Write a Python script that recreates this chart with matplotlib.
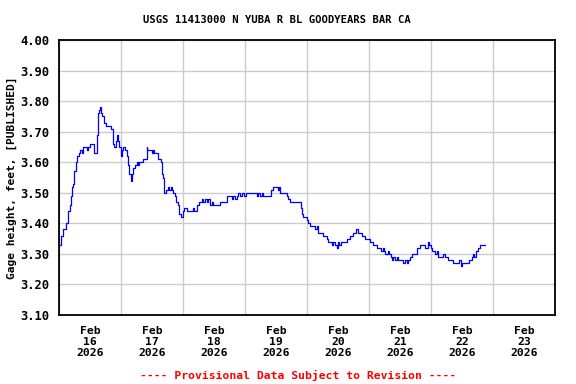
import numpy as np
import matplotlib
matplotlib.use('Agg')
import matplotlib.pyplot as plt

# hours since Feb 16 2026 00:00
hours = [0.0, 0.8, 1.7, 2.6, 3.4, 4.3, 4.6, 5.1, 5.5, 5.9, 6.5, 6.8, 7.7, 8.1, 9.0,
         9.4, 10.7, 11.1, 12.0, 13.3, 13.7, 14.6, 14.8, 15.0, 15.5, 15.9, 16.3, 16.8,
         17.4, 18.2, 19.5, 20.1, 20.8, 20.9, 21.4, 22.1, 22.3, 23.0, 23.3, 23.9, 24.3,
         24.9, 25.5, 26.2, 26.6, 27.0, 27.8, 27.9, 28.4, 28.8, 29.4, 30.1, 30.5, 31.1,
         32.0, 32.6, 33.6, 34.0, 34.2, 35.6, 35.9, 36.5, 36.9, 37.8, 38.2, 39.1, 39.5,
         39.7, 40.4, 40.6, 40.8, 41.3, 41.9, 42.3, 42.7, 43.2, 43.6, 44.2, 44.9, 45.3,
         45.9, 46.4, 46.6, 47.2, 47.5, 47.9, 48.4, 49.4, 49.7, 51.4, 51.7, 52.4, 53.3,
         54.2, 54.6, 55.2, 55.7, 56.5, 57.2, 57.8, 58.5, 59.1, 59.7, 61.5, 62.3, 64.3,
         64.9, 66.2, 66.8, 67.5, 68.1, 68.8, 69.4, 70.1, 70.7, 71.7, 72.3, 73.3, 75.9,
         76.5, 77.1, 77.8, 78.5, 79.1, 81.4, 81.9, 82.7, 84.3, 84.6, 85.2, 85.5, 87.5,
         88.1, 88.8, 89.4, 93.3, 93.7, 94.2, 94.6, 95.2, 95.9, 96.5, 97.2, 98.4, 99.1,
         99.8, 100.4, 101.7, 102.3, 103.0, 103.6, 104.3, 104.9, 105.6, 106.2, 106.8,
         107.5, 107.9, 108.5, 109.2, 110.7, 111.3, 112.6, 113.9, 114.6, 115.0, 115.4,
         115.9, 116.5, 117.2, 118.5, 119.7, 120.4, 121.4, 123.0, 124.3, 124.6, 125.3,
         125.8, 126.2, 127.5, 127.7, 128.4, 128.8, 129.4, 130.1, 130.7, 131.3, 132.6,
         133.3, 133.9, 134.6, 135.2, 135.9, 136.5, 137.8, 138.5, 139.7, 141.0, 141.7,
         142.5, 142.7, 143.2, 143.9, 144.3, 144.9, 145.5, 146.2, 146.8, 148.1, 148.5,
         149.4, 150.3, 150.7, 152.4, 152.6, 154.6, 155.0, 155.5, 155.9, 158.5, 158.8,
         159.8, 160.3, 160.8, 161.4, 161.9, 162.3, 163.0, 164.8]
gage = [3.33, 3.36, 3.38, 3.40, 3.44, 3.46, 3.49, 3.52, 3.53, 3.57, 3.60, 3.62, 3.63, 3.64, 3.63,
        3.65, 3.64, 3.65, 3.66, 3.66, 3.63, 3.64, 3.69, 3.76, 3.77, 3.78, 3.76, 3.75,
        3.73, 3.72, 3.72, 3.71, 3.71, 3.66, 3.65, 3.67, 3.69, 3.67, 3.65, 3.62, 3.64,
        3.65, 3.64, 3.62, 3.59, 3.56, 3.56, 3.54, 3.56, 3.58, 3.59, 3.60, 3.59, 3.60,
        3.60, 3.61, 3.61, 3.65, 3.64, 3.64, 3.63, 3.64, 3.63, 3.63, 3.61, 3.61, 3.60,
        3.56, 3.55, 3.52, 3.50, 3.51, 3.51, 3.52, 3.51, 3.52, 3.51, 3.50, 3.49, 3.47,
        3.46, 3.46, 3.43, 3.42, 3.42, 3.44, 3.45, 3.45, 3.44, 3.44, 3.45, 3.44, 3.46,
        3.47, 3.47, 3.48, 3.47, 3.48, 3.47, 3.48, 3.46, 3.47, 3.46, 3.46, 3.47, 3.47,
        3.49, 3.49, 3.48, 3.49, 3.48, 3.49, 3.50, 3.49, 3.50, 3.49, 3.50, 3.50, 3.50,
        3.49, 3.50, 3.49, 3.50, 3.49, 3.49, 3.51, 3.52, 3.52, 3.51, 3.52, 3.50, 3.50,
        3.49, 3.48, 3.47, 3.47, 3.45, 3.43, 3.42, 3.42, 3.41, 3.40, 3.39, 3.39, 3.38,
        3.39, 3.37, 3.37, 3.36, 3.36, 3.35, 3.34, 3.34, 3.33, 3.34, 3.33,
        3.32, 3.34, 3.33, 3.34, 3.34, 3.35, 3.36, 3.37, 3.37, 3.38, 3.38,
        3.37, 3.37, 3.36, 3.35, 3.35, 3.34, 3.33, 3.32, 3.32, 3.31, 3.32,
        3.31, 3.30, 3.31, 3.30, 3.29, 3.28, 3.29, 3.28, 3.29, 3.28, 3.28,
        3.27, 3.28, 3.27, 3.28, 3.29, 3.30, 3.30, 3.32, 3.33, 3.33, 3.32,
        3.32, 3.34, 3.33, 3.32, 3.31, 3.31, 3.30, 3.31, 3.29, 3.29, 3.30,
        3.29, 3.29, 3.28, 3.28, 3.27, 3.27, 3.28, 3.26, 3.27, 3.27, 3.28,
        3.29, 3.30, 3.29, 3.31, 3.31, 3.32, 3.33, 3.33]

day_labels = ['Feb\n16\n2026', 'Feb\n17\n2026', 'Feb\n18\n2026', 'Feb\n19\n2026',
              'Feb\n20\n2026', 'Feb\n21\n2026', 'Feb\n22\n2026', 'Feb\n23\n2026']
y_ticks = [3.10, 3.20, 3.30, 3.40, 3.50, 3.60, 3.70, 3.80, 3.90, 4.00]

font = 'DejaVu Sans Mono'

fig = plt.figure(figsize=(5.76, 3.84), dpi=100)
ax = fig.add_axes([0.1024, 0.1797, 0.8611, 0.7161])

ax.plot(hours, gage, color='#0000ff', linewidth=0.9, drawstyle='steps-post')

ax.set_xlim(0, 192)
ax.set_ylim(3.10, 4.00)

ax.set_xticks(np.arange(0, 193, 24))
ax.set_xticklabels([])
ax.set_xticks(np.arange(12, 192, 24), minor=True)
ax.set_xticklabels(day_labels, minor=True, fontfamily=font, fontweight='bold',
                   fontsize=8.2, linespacing=1.1)
ax.set_yticks(y_ticks)
ax.set_yticklabels(['%.2f' % v for v in y_ticks], fontfamily=font,
                   fontweight='bold', fontsize=8.7)
ax.tick_params(which='both', length=0)
ax.tick_params(axis='x', which='minor', pad=8)
ax.tick_params(axis='y', pad=7)

ax.grid(True, which='major', color='#cccccc', linewidth=1.0)
ax.set_axisbelow(True)
for s in ax.spines.values():
    s.set_linewidth(1.3)
    s.set_color('black')

ax.set_ylabel('Gage height, feet, [PUBLISHED]', fontfamily=font,
              fontweight='bold', fontsize=8.1, labelpad=2)

fig.text(0.481, 0.948, 'USGS 11413000 N YUBA R BL GOODYEARS BAR CA',
         ha='center', va='center', fontfamily=font, fontweight='bold', fontsize=7.6)
fig.text(0.517, 0.023, '---- Provisional Data Subject to Revision ----',
         ha='center', va='center', fontfamily=font, fontweight='bold',
         fontsize=8.2, color='#ff0000')

fig.savefig('out.png', dpi=100)
